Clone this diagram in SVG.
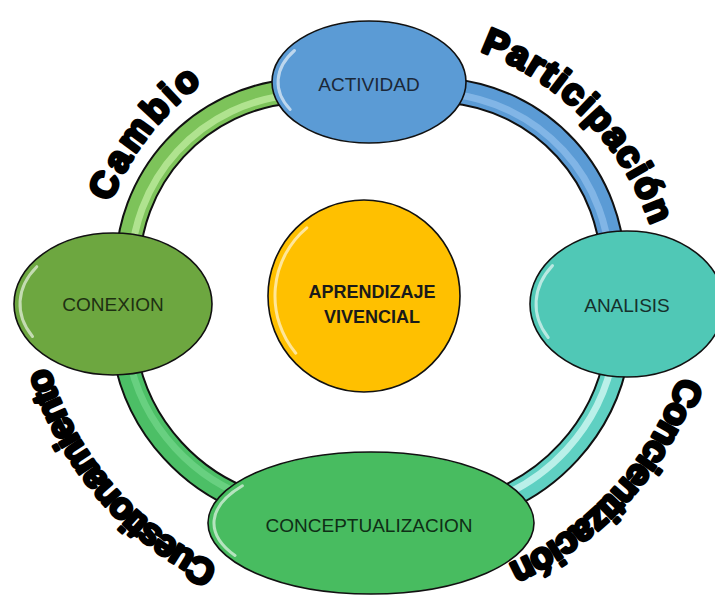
<svg xmlns="http://www.w3.org/2000/svg" width="715" height="595" viewBox="0 0 715 595">
<defs>
<style>
.outline{fill:none;stroke:#111;stroke-width:26}
.band{fill:none;stroke-width:22}
.hl{fill:none;stroke-width:7;opacity:0.75}
.node{stroke:#111;stroke-width:1.6}
.gloss{fill:none;stroke:#fff;stroke-width:3;opacity:0.6;stroke-linecap:round}
.lbl{font-family:"Liberation Sans",Arial,sans-serif;font-size:19px;text-anchor:middle}
.big{font-family:"Liberation Sans",Arial,sans-serif;font-size:37px;font-weight:bold;fill:#000;stroke:#000;stroke-width:3.2;stroke-linejoin:round}
</style>
<path id="pCambio" d="M 110.5 202.5 A 278 278 0 0 1 231 64.3"/>
<path id="pPart" d="M 480 51 A 287 287 0 0 1 657.2 245.7"/>
<path id="pConc" d="M 679.5 376.1 A 317 317 0 0 1 477 576.5"/>
<path id="pCues" d="M 218.4 565.6 A 322 322 0 0 1 39.9 330.9"/>
</defs>
<rect width="715" height="595" fill="#fff"/>
<g id="connectors">
<path class="outline" d="M 127.5 270 A 179.5 179.5 0 0 1 291.4 91.2"/>
<path class="band" stroke="#7DC35A" d="M 127.5 270 A 179.5 179.5 0 0 1 291.4 91.2"/>
<path class="hl" stroke="#C2EDA2" d="M 131 270 A 176 176 0 0 1 291.4 95"/>
<path class="outline" d="M 448.7 90.7 A 180 180 0 0 1 613 270"/>
<path class="band" stroke="#5B9BD5" d="M 448.7 90.7 A 180 180 0 0 1 613 270"/>
<path class="hl" stroke="#8DBDEB" d="M 448.7 94 A 177 177 0 0 1 610 270"/>
<path class="outline" d="M 125 353.5 A 193 193 0 0 0 265 506.4"/>
<path class="band" stroke="#4CBF66" d="M 125 353.5 A 193 193 0 0 0 265 506.4"/>
<path class="hl" stroke="#72D68A" d="M 128 353 A 190 190 0 0 0 266 503"/>
<path class="outline" d="M 617 353.9 A 195 195 0 0 1 475.5 508.4"/>
<path class="band" stroke="#5FD0C2" d="M 617 353.9 A 195 195 0 0 1 475.5 508.4"/>
<path class="hl" stroke="#D8FBF6" d="M 614 353.5 A 192 192 0 0 1 474.5 505.5"/>
</g>
<g id="arc-labels">
<text class="big"><textPath href="#pCambio" textLength="152" lengthAdjust="spacing">Cambio</textPath></text>
<text class="big"><textPath href="#pPart" textLength="252" lengthAdjust="spacing">Participación</textPath></text>
<text class="big"><textPath href="#pConc" textLength="262" lengthAdjust="spacing">Concientización</textPath></text>
<text class="big"><textPath href="#pCues" textLength="269" lengthAdjust="spacing">Cuestionamiento</textPath></text>
</g>
<g id="actividad">
<ellipse class="node" cx="369" cy="82" rx="97" ry="61" fill="#5B9BD5"/>
<path class="gloss" d="M 290.2 109.5 A 91 55 0 0 1 294.5 50.5"/>
<text class="lbl" x="369" y="91" fill="#1B2838">ACTIVIDAD</text>
</g>
<g id="analisis">
<ellipse class="node" cx="627" cy="304" rx="97" ry="73" fill="#50C8B6"/>
<path class="gloss" d="M 548.2 337.5 A 91 67 0 0 1 552.5 265.6"/>
<text class="lbl" x="627" y="312" fill="#16302C">ANALISIS</text>
</g>
<g id="conexion">
<ellipse class="node" cx="113" cy="304" rx="99" ry="71" fill="#6DA740"/>
<path class="gloss" d="M 32.5 336.5 A 93 65 0 0 1 36.8 266.7"/>
<text class="lbl" x="113" y="311" fill="#1E3012">CONEXION</text>
</g>
<g id="conceptualizacion">
<ellipse class="node" cx="371" cy="523" rx="163" ry="71" fill="#48BC60"/>
<path class="gloss" d="M 235 555.5 A 157 65 0 0 1 242.4 485.7"/>
<text class="lbl" x="369" y="532" fill="#0F2E16" textLength="207" lengthAdjust="spacingAndGlyphs">CONCEPTUALIZACION</text>
</g>
<g id="aprendizaje">
<circle class="node" cx="364" cy="296" r="96" fill="#FFC000"/>
<path class="gloss" d="M 295.8 353.2 A 89 89 0 0 1 306.8 227.8"/>
<text class="lbl" x="372" y="298" font-weight="bold" fill="#1a1a1a" style="font-size:18px">APRENDIZAJE</text>
<text class="lbl" x="372" y="323" font-weight="bold" fill="#1a1a1a" style="font-size:18px">VIVENCIAL</text>
</g>
</svg>
